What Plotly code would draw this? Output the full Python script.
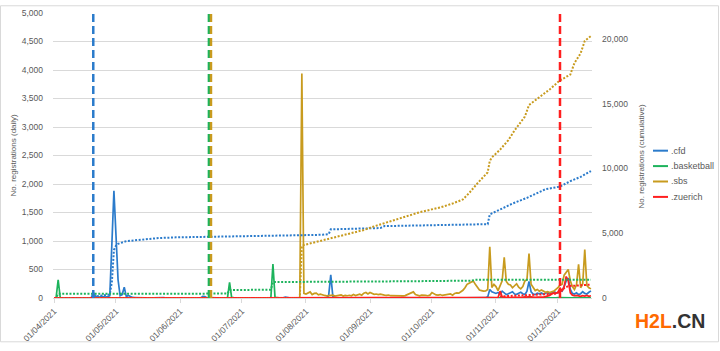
import plotly.graph_objects as go
import pandas as pd

# ---------------- data ----------------
dates = pd.date_range("2021-04-01", "2021-12-17", freq="D")

series_names = [".cfd", ".basketball", ".sbs", ".zuerich"]
series_colors = ["#2B7BCB", "#1DB35C", "#C89B1E", "#FF1F1F"]

# daily registrations (left axis), Apr | May | Jun | Jul | Aug | Sep | Oct | Nov | Dec
cfd_daily = (
    [0,0,0,0,0,0,0,0,0,0, 0,0,0,0,0,0,0,0,0,100, 35,20,15,30,20,15,25,40,940,1880]
    + [1100,320,40,60,190,25,45,20,10,8,5, 5,3,6,2,4,8,3,2,5,3, 2,4,6,3,2,1,3,2,4,3]
    + [2,3,1,2,4,2,1,3,2,1, 2,30,25,3,2,1,2,3,1,2, 1,2,3,2,1,2,1,3,2,1]
    + [2,1,2,3,1,2,1,2,3,2, 1,2,1,2,3,2,1,2,1,2, 3,15,4,2,1,2,1,2,3,2,1]
    + [3,2,4,3,2,5,3,2,4,3, 2,50,405,30,5,3,4,2,3,5, 3,2,4,3,2,3,5,2,3,4,2]
    + [3,2,4,3,2,3,5,4,8,3, 2,3,4,2,3,6,9,4,3,2, 3,4,2,3,5,3,2,4,3,2]
    + [3,2,4,3,2,5,3,4,2,3, 4,3,2,5,3,2,4,3,5,4, 3,2,4,5,3,4,5, 20,150,110,95]
    + [80,95,70,120,85,60,75,90,110,70, 65,85,100,75,60,120,290,110,70,60, 85,75,90,65,80,100,70,85,110,95]
    + [90,130,120,200,300,350,150,80,70,90, 60,75,110,80,70,100,125]
)
basketball_daily = (
    [0,5,320,8,2,1,0,2,1,0, 1,0,2,1,0,1,0,2,1,0, 1,2,0,1,0,2,1,0,1,2]
    + [1,0,2,1,0,1,2,0,1,0, 1,2,0,1,0,1,0,2,1,0, 1,0,1,2,0,1,0,1,0,2,1]
    + [1,0,2,1,0,1,0,1,2,0, 1,0,1,0,5,3,1,0,1,2, 0,1,0,5,275,10,1,0,2,1]
    + [1,0,2,1,0,1,2,0,1,0, 1,0,2,1,8,596,12,2,1,0, 1,2,1,0,1,2,1,0,1,2,1]
    + [2,1,3,2,1,2,4,3,2,1, 2,3,1,2,4,3,2,1,2,3, 2,1,3,2,4,2,1,3,2,1,2]
    + [3,2,1,2,4,3,2,1,2,3, 2,4,3,2,1,2,3,2,4,3, 2,1,3,2,4,3,2,3,2,1]
    + [2,3,4,2,1,3,2,4,3,2, 3,2,1,3,4,2,3,2,4,3, 2,3,1,2,4,3,2,5,8,4,3]
    + [4,3,2,5,3,2,4,3,2,3, 4,2,3,5,2,3,4,2,3,2, 4,3,2,3,5,2,3,4,2,3]
    + [5,3,4,6,3,2,4,3,5,2, 3,4,2,3,5,3,4]
)
sbs_daily = (
    [0,0,1,0,0,0,1,0,0,0, 0,1,0,0,0,0,0,1,0,0, 0,0,1,0,0,0,0,1,0,0]
    + [0,1,0,0,0,0,1,0,0,0, 0,8,0,0,1,0,0,0,0,1, 0,0,0,0,1,0,0,0,0,1,0]
    + [0,0,1,0,0,0,0,1,0,0, 0,0,1,0,2,5,1,0,0,0, 1,0,0,0,1,0,0,0,1,0]
    + [0,1,0,0,0,1,0,0,0,0, 1,0,0,0,1,0,0,0,0,1, 0,0,0,1,0,0,0,0,5,3940,80]
    + [70,95,107,60,80,84,55,68,50,45, 39,42,35,50,34,40,38,55,34,45, 40,48,38,60,42,55,68,50,85,96,70]
    + [96,80,65,70,60,68,55,50,45,52, 40,38,45,40,35,34,38,42,55,68, 90,107,60,45,39,50,42,45,40,50]
    + [96,70,55,50,60,45,50,55,65,70, 50,80,90,85,110,135,180,240,260,280, 300,240,180,140,130,120,125,150,900,185,240]
    + [200,130,220,300,715,290,240,230,180,210, 250,190,160,200,300,320,780,240,180,130, 150,120,140,120,100,110,95,110,120,150]
    + [180,230,240,400,460,500,300,200,150,230, 590,180,250,850,220,180,160]
)
zuerich_daily = (
    [0] * 30 + [0] * 31 + [0] * 30 + [0] * 31 + [0] * 31 + [0] * 30 + [0] * 31
    + [0,10,120,20,15,10,12,8,10,15, 12,10,8,12,20,15,25,18,12,10, 15,12,20,15,25,30,45,70,90,80]
    + [100,180,120,200,377,300,90,50,40,45, 35,30,40,35,45,30,40]
)
daily = [cfd_daily, basketball_daily, sbs_daily, zuerich_daily]
for s in daily:
    assert len(s) == len(dates), len(s)

# cumulative registrations (right axis), read at selected dates
cfd_cum_dates = ["2021-04-01","2021-04-19","2021-04-20","2021-04-27","2021-04-28","2021-04-29",
                 "2021-04-30","2021-05-01","2021-05-02","2021-05-06","2021-05-14","2021-05-22",
                 "2021-05-30","2021-06-15","2021-06-30","2021-07-16","2021-07-30","2021-08-09",
                 "2021-08-12","2021-08-13","2021-09-06","2021-09-08","2021-10-05","2021-10-28",
                 "2021-10-29","2021-11-03","2021-11-09","2021-11-16","2021-11-21","2021-11-25",
                 "2021-12-02","2021-12-07","2021-12-12","2021-12-17"]
cfd_cum_vals = [0,0,100,240,280,1220,
                3700,4050,4180,4390,4510,4630,
                4680,4710,4760,4800,4850,4880,
                4930,5300,5400,5550,5650,5700,
                6450,6860,7290,7730,8100,8400,
                8600,9020,9350,9800]

basketball_cum_dates = ["2021-04-01","2021-04-02","2021-04-03","2021-06-24","2021-06-25",
                        "2021-07-15","2021-07-16","2021-09-16","2021-09-18","2021-10-20",
                        "2021-10-22","2021-12-17"]
basketball_cum_vals = [0,5,325,340,615,640,1230,1250,1290,1340,1400,1415]

sbs_cum_dates = ["2021-04-01","2021-07-29","2021-07-30","2021-07-31","2021-08-09","2021-08-18",
                 "2021-08-29","2021-09-03","2021-09-13","2021-09-25","2021-10-05","2021-10-11",
                 "2021-10-16","2021-10-19","2021-10-23","2021-10-27","2021-10-28","2021-10-29",
                 "2021-10-30","2021-11-03","2021-11-07","2021-11-10","2021-11-15","2021-11-17",
                 "2021-11-22","2021-11-27","2021-12-02","2021-12-07","2021-12-09","2021-12-12",
                 "2021-12-14","2021-12-17"]
sbs_cum_vals = [0,5,4015,4090,4450,4820,
                5250,5530,6000,6620,6990,7290,
                7610,8100,8850,9590,9700,10580,
                10850,11450,12190,12940,14000,14900,
                15500,16100,16800,17250,18140,18890,
                19850,20220]

zuerich_cum_dates = ["2021-04-01","2021-11-02","2021-11-03","2021-11-28","2021-11-30",
                     "2021-12-02","2021-12-04","2021-12-06","2021-12-10","2021-12-17"]
zuerich_cum_vals = [0,0,120,280,330,500,750,920,960,1030]

cum_dates = [cfd_cum_dates, basketball_cum_dates, sbs_cum_dates, zuerich_cum_dates]
cum_vals = [cfd_cum_vals, basketball_cum_vals, sbs_cum_vals, zuerich_cum_vals]

# event markers (vertical dashed lines)
event_dates = ["2021-04-20", "2021-06-15", "2021-06-16", "2021-12-02"]

left_ticks = list(range(0, 5001, 500))
right_ticks = list(range(0, 20001, 5000))

# ---------------- layout geometry ----------------
W, H = 720, 351
L, R, T, B = 53, 128, 8, 47
PW, PH = W - L - R, H - T - B

def pxx(px):
    return (px - L) / PW

def pxy(py):
    return 1 - (py - T) / PH

GRAY = "#595959"
FONT = "Liberation Sans"

fig = go.Figure()

for name, col, ys in zip(series_names, series_colors, daily):
    fig.add_trace(go.Scatter(x=dates, y=ys, mode="lines", name=name,
                             line=dict(color=col, width=1.7), yaxis="y",
                             showlegend=False, hoverinfo="skip"))

for name, col, xs, ys in zip(series_names, series_colors, cum_dates, cum_vals):
    fig.add_trace(go.Scatter(x=pd.to_datetime(xs), y=ys, mode="lines", name=name + " cum",
                             line=dict(color=col, width=2, dash="2px,1.6px"), yaxis="y2",
                             showlegend=False, hoverinfo="skip"))

shapes = []
for col, d in zip(series_colors, event_dates):
    shapes.append(dict(type="line", xref="x", yref="paper", x0=d, x1=d, y0=0, y1=1,
                       line=dict(color=col, width=2.5, dash="8px,4px"), layer="above"))

# legend (manual, to match short sample lines)
annotations = []
for i, (name, col) in enumerate(zip(series_names, series_colors)):
    yy = 151 + 16 * i
    shapes.append(dict(type="line", xref="paper", yref="paper", x0=pxx(653), x1=pxx(668),
                       y0=pxy(yy), y1=pxy(yy), line=dict(color=col, width=2)))
    annotations.append(dict(x=pxx(669), y=pxy(yy), xref="paper", yref="paper", text=name,
                            showarrow=False, xanchor="left", yanchor="middle",
                            font=dict(family=FONT, size=9, color=GRAY)))

# axis titles
annotations.append(dict(x=pxx(13), y=pxy(156), xref="paper", yref="paper",
                        xanchor="center", yanchor="middle",
                        text="No. registrations (daily)", textangle=-90, showarrow=False,
                        font=dict(family=FONT, size=8, color=GRAY)))
annotations.append(dict(x=pxx(641), y=pxy(157), xref="paper", yref="paper",
                        xanchor="center", yanchor="middle",
                        text="No. registrations (cumulative)", textangle=-90, showarrow=False,
                        font=dict(family=FONT, size=8, color=GRAY)))
# watermark
annotations.append(dict(x=pxx(670), y=pxy(328), xref="paper", yref="paper",
                        xanchor="center", yanchor="middle",
                        text="<b><span style='color:#FF6A00'>H2L</span><span style='color:#333333'>.CN</span></b>",
                        showarrow=False, font=dict(family=FONT, size=19.5)))

# chart border
shapes.append(dict(type="rect", xref="paper", yref="paper", x0=pxx(0.5), x1=pxx(W - 1.5),
                   y0=pxy(H - 1.5), y1=pxy(0.5), line=dict(color="#D9D9D9", width=1),
                   layer="below"))

fig.update_layout(
    width=W, height=H, margin=dict(l=L, r=R, t=T, b=B),
    paper_bgcolor="white", plot_bgcolor="white",
    showlegend=False,
    shapes=shapes, annotations=annotations,
    xaxis=dict(type="date", range=["2021-03-31 12:00", "2021-12-17 12:00"],
               tick0="2021-04-01", dtick="M1", tickformat="%d/%m/%Y", tickangle=-45,
               ticks="outside", ticklen=4, tickcolor="#D9D9D9",
               showgrid=False, showline=True, linecolor="#D9D9D9", zeroline=False,
               tickfont=dict(family=FONT, size=8.5, color=GRAY)),
    yaxis=dict(range=[0, 5000], tickvals=left_ticks, tickformat=",", showgrid=True,
               gridcolor="#D9D9D9", gridwidth=1, zeroline=False, showline=False,
               ticks="", ticklabelstandoff=9,
               tickfont=dict(family=FONT, size=8.5, color=GRAY)),
    yaxis2=dict(range=[0, 22000], tickvals=right_ticks, tickformat=",", overlaying="y",
                side="right", showgrid=False, zeroline=False, showline=False,
                ticks="", ticklabelstandoff=9,
                tickfont=dict(family=FONT, size=8.5, color=GRAY)),
)

fig.write_html("out.html")
